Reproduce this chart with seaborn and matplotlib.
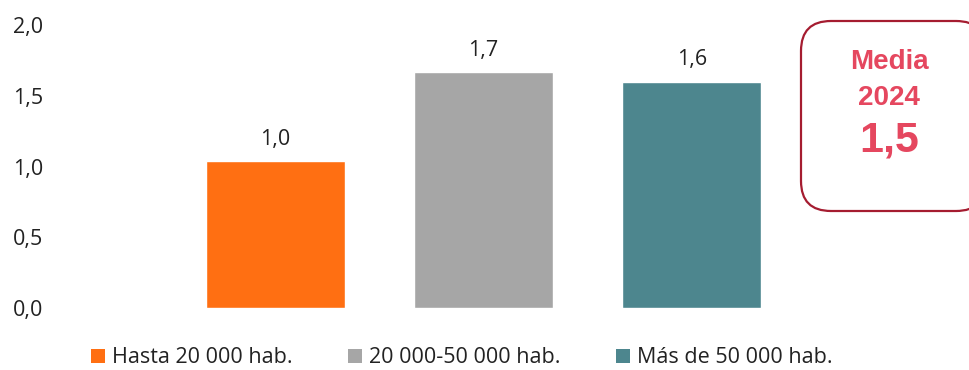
import matplotlib
matplotlib.use("Agg")
import matplotlib.pyplot as plt
import seaborn as sns
from matplotlib.patches import FancyBboxPatch, Patch
from matplotlib.ticker import FuncFormatter

# data
categorias = ["Hasta 20 000 hab.", "20 000-50 000 hab.", "Más de 50 000 hab."]
valores = [1.04, 1.67, 1.60]
colores = ["#FF6F12", "#A6A6A6", "#4D868E"]
media_titulo = ["Media", "2024"]
media_valor = "1,5"

sns.set_theme(style="white")
plt.rcParams['font.family'] = ['Open Sans', 'DejaVu Sans']

fig = plt.figure(figsize=(9.7, 3.7), dpi=100)
ax = fig.add_axes([60 / 970, 62 / 370, 740 / 970, 283 / 370])

sns.barplot(x=categorias, y=valores, hue=categorias, palette=colores,
            width=0.67, legend=False, saturation=1, ax=ax)

for cont in ax.containers:
    ax.bar_label(cont, labels=[f"{v.get_height():.1f}".replace(".", ",") for v in cont],
                 padding=8, fontsize=15.5, color="#222222")

ax.set_ylim(0, 2.0)
ax.set_xlim(-1.034, 2.52)
ax.set_yticks([0, 0.5, 1.0, 1.5, 2.0])
ax.yaxis.set_major_formatter(FuncFormatter(lambda v, p: f"{v:.1f}".replace(".", ",")))
ax.tick_params(axis="y", length=0, pad=12, labelsize=15.5, labelcolor="#222222")
ax.set_xticks([])
ax.set_xlabel("")
sns.despine(ax=ax, left=True, bottom=True)

# legend at the bottom
handles = [Patch(facecolor=c, edgecolor="none") for c in colores]
fig.legend(handles, categorias, loc="center", bbox_to_anchor=(0.476, 0.033), ncol=3,
           frameon=False, fontsize=15.5, handlelength=0.65, handleheight=0.65,
           handletextpad=0.3, columnspacing=2.6, labelcolor="#222222")

# rounded box with the mean
box = FancyBboxPatch((8.01, 1.59), 1.85, 1.9, boxstyle="round,pad=0,rounding_size=0.3",
                     transform=fig.dpi_scale_trans, facecolor="white",
                     edgecolor="#A51C30", linewidth=1.6, clip_on=False)
fig.patches.append(box)
for txt, ypx in zip(media_titulo, [62, 98]):
    fig.text(889 / 970, 1 - ypx / 370, txt, ha="center", va="center",
             fontsize=20, fontweight="bold", color="#E5475F", family="Liberation Sans")
fig.text(889 / 970, 1 - 140 / 370, media_valor, ha="center", va="center",
         fontsize=31, fontweight="bold", color="#E5475F", family="Liberation Sans")

fig.savefig("out.png", dpi=100)
